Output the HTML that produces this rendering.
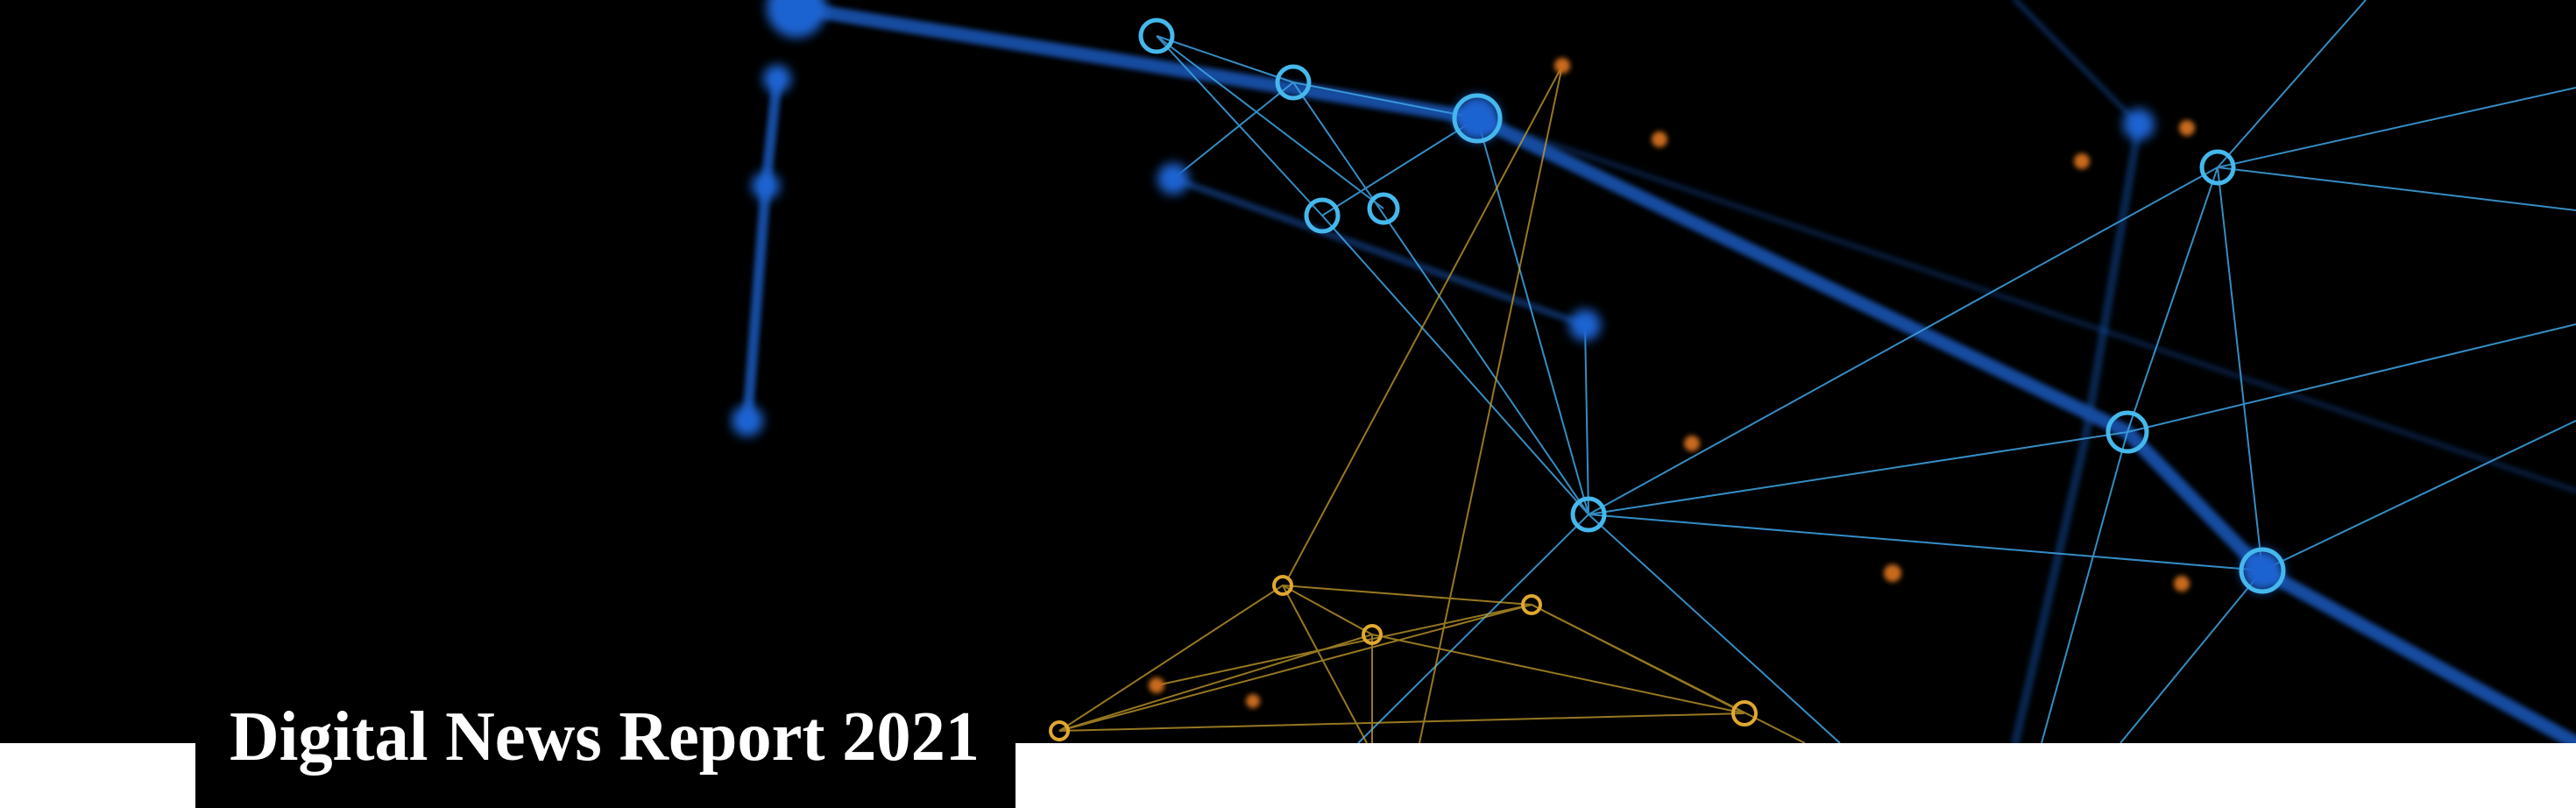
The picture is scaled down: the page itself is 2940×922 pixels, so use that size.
<!DOCTYPE html>
<html><head><meta charset="utf-8"><style>
html,body{margin:0;padding:0;background:#fff;}
#wrap{position:relative;width:2940px;height:922px;overflow:hidden;background:#fff;}
svg{position:absolute;left:0;top:0;}
</style></head><body>
<div id="wrap">
<svg width="2940" height="922" viewBox="0 0 2940 922">
<defs>
<filter id="blur" x="-50%" y="-50%" width="200%" height="200%"><feGaussianBlur stdDeviation="6"/></filter>
<filter id="blur2" x="-50%" y="-50%" width="200%" height="200%"><feGaussianBlur stdDeviation="3"/></filter>
</defs>
<rect x="0" y="0" width="2940" height="848" fill="#000"/>
<g stroke="#1c5fc8" stroke-linecap="round" fill="none" opacity="0.8" filter="url(#blur2)">
<path d="M909 9 L1686 135 L2428 493 L2582 651 L2940 848" stroke-width="16"/>
<path d="M887 90 L874 212 L853 480" stroke-width="12"/>
<path d="M1339 204 L1809 371" stroke-width="8" opacity="0.6"/>
<path d="M2441 142 L2380 500 L2300 848" stroke-width="10" opacity="0.5"/>
<path d="M1686 135 L2940 560" stroke-width="6" opacity="0.4"/>
<path d="M2300 0 L2441 142" stroke-width="6" opacity="0.5"/>
</g>
<g stroke="#3fa6e6" stroke-width="2" fill="none" opacity="0.85">
<path d="M1320 41 L1476 94 L1686 135"/>
<path d="M1320 41 L1509 246 L1813 587"/>
<path d="M1320 41 L1579 238"/>
<path d="M1476 94 L1339 204"/>
<path d="M1476 94 L1813 587"/>
<path d="M1509 246 L1686 135 L1813 587"/>
<path d="M1813 587 L2428 493 L2531 191 L2940 100"/>
<path d="M2531 191 L2940 240"/>
<path d="M2531 191 L2582 651"/>
<path d="M2531 191 L2700 0"/>
<path d="M2531 191 L1813 587"/>
<path d="M1813 587 L2582 651"/>
<path d="M1813 587 L1550 848"/>
<path d="M1813 587 L2100 848"/>
<path d="M2428 493 L2330 848"/>
<path d="M2428 493 L2940 370"/>
<path d="M2582 651 L2420 848"/>
<path d="M2582 651 L2940 480"/>
<path d="M1809 371 L1813 587"/>
</g>
<g stroke="#c9a12c" stroke-width="2" fill="none" opacity="0.75">
<path d="M1209 834 L1464 668 L1566 724 L1991 814"/>
<path d="M1209 834 L1748 690 L1991 814"/>
<path d="M1209 834 L1566 724"/>
<path d="M1464 668 L1748 690 L2060 848"/>
<path d="M1464 668 L1560 848"/>
<path d="M1566 724 L1566 848"/>
<path d="M1209 834 L1991 814"/>
<path d="M1783 75 L1470 660"/>
<path d="M1783 75 L1620 848"/>
<path d="M1320 782 L1748 690"/>
</g>
<g fill="#c86a1e" filter="url(#blur2)">
<circle cx="1783" cy="75" r="9"/><circle cx="1894" cy="159" r="9"/><circle cx="2376" cy="184" r="9"/>
<circle cx="2496" cy="146" r="9"/><circle cx="1931" cy="506" r="9"/><circle cx="2160" cy="654" r="10"/>
<circle cx="2490" cy="666" r="9"/><circle cx="1320" cy="782" r="9"/><circle cx="1430" cy="800" r="8"/>
</g>
<g fill="#1e64d2" filter="url(#blur)">
<circle cx="909" cy="9" r="34"/><circle cx="887" cy="90" r="16"/><circle cx="874" cy="212" r="16"/>
<circle cx="853" cy="480" r="18"/><circle cx="1339" cy="204" r="18"/><circle cx="1809" cy="371" r="18"/>
<circle cx="2441" cy="142" r="18"/><circle cx="1686" cy="135" r="26"/><circle cx="2582" cy="651" r="24"/>
</g>
<g stroke="#45b8ec" stroke-width="5" fill="none">
<circle cx="1320" cy="41" r="18"/><circle cx="1476" cy="94" r="18"/><circle cx="1686" cy="135" r="26"/>
<circle cx="1509" cy="246" r="18"/><circle cx="1579" cy="238" r="16"/><circle cx="1813" cy="587" r="18"/>
<circle cx="2428" cy="493" r="22"/><circle cx="2531" cy="191" r="18"/><circle cx="2582" cy="651" r="24"/>
</g>
<g stroke="#e0a830" stroke-width="4" fill="none">
<circle cx="1464" cy="668" r="10"/><circle cx="1566" cy="724" r="10"/><circle cx="1748" cy="690" r="10"/>
<circle cx="1209" cy="834" r="10"/><circle cx="1991" cy="814" r="13"/>
</g>
<rect x="0" y="848" width="2940" height="74" fill="#fff"/>
<rect x="223" y="750" width="936" height="172" fill="#000"/>
<text x="262" y="867" font-family="Liberation Serif, serif" font-weight="bold" font-size="80" fill="#fff" textLength="856" lengthAdjust="spacingAndGlyphs">Digital News Report 2021</text>
</svg>
</div>
</body></html>
